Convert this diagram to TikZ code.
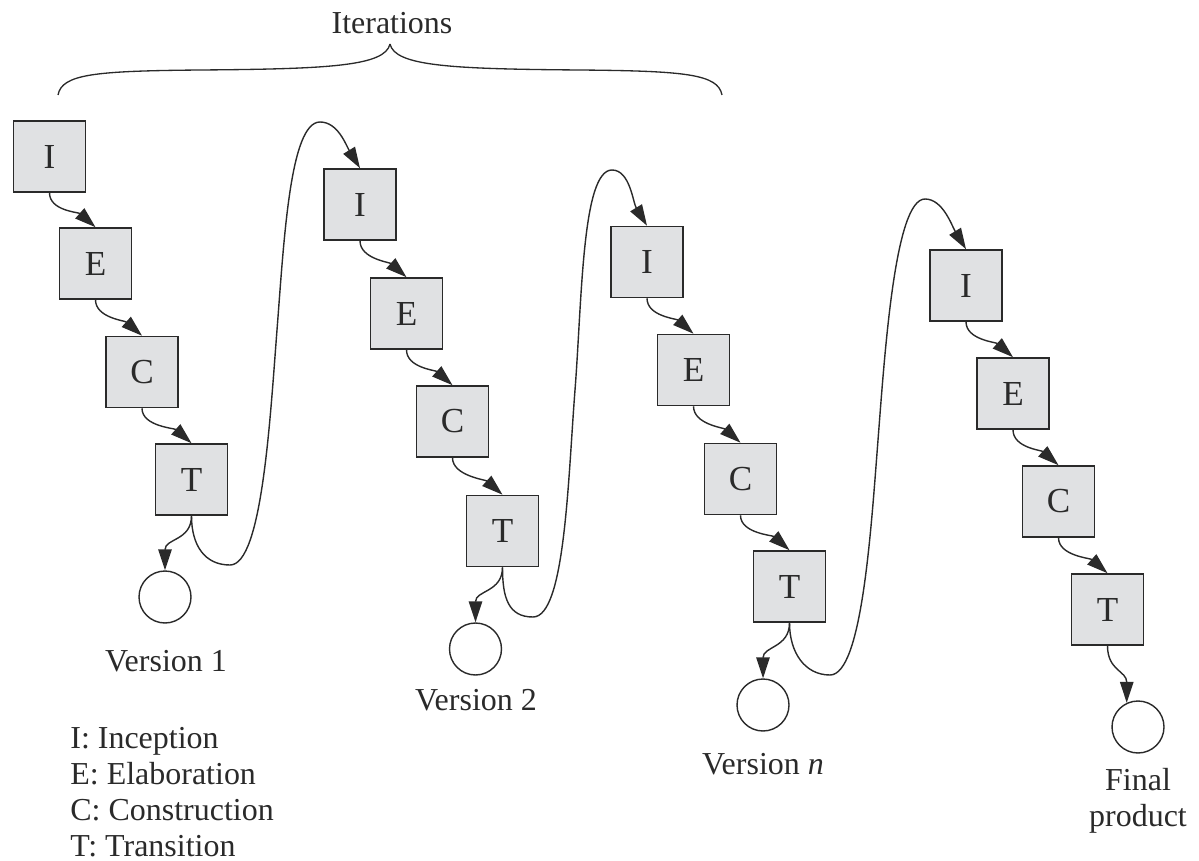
\documentclass[tikz,border=0pt]{standalone}
\usepackage{fontspec}
\setmainfont{Liberation Serif}
\usetikzlibrary{arrows.meta,calc}
\definecolor{boxgray}{HTML}{E0E1E3}
\definecolor{ink}{HTML}{2A2A2A}
\begin{document}
\begin{tikzpicture}[x=0.02cm,y=0.02cm,
  phase/.style={draw=ink, fill=boxgray, line width=0.9pt, minimum width=1.44cm, minimum height=1.42cm, inner sep=0pt, font=\fontsize{20}{23}\selectfont, text=ink},
  ver/.style={draw=ink, circle, line width=0.8pt, minimum size=1.04cm, inner sep=0pt},
  lbl/.style={font=\fontsize{18.2}{20.5}\selectfont, inner sep=0pt, text=ink},
  flow/.style={draw=ink, line width=0.8pt, -{Triangle[length=0.42cm,width=0.27cm]}},
  curly/.style={draw=ink, line width=0.75pt}
]
\useasboundingbox (0,0) rectangle (1199,-861);

% column 1
\node[phase] (I1) at (49.5,-156.5) {I};
\node[phase] (E1) at (95.5,-263.5) {E};
\node[phase] (C1) at (142,-372) {C};
\node[phase] (T1) at (191.5,-479.5) {T};
\node[ver] (V1) at (165,-597) {};
% column 2
\node[phase] (I2) at (360,-204.5) {I};
\node[phase] (E2) at (406.5,-313.5) {E};
\node[phase] (C2) at (452.5,-421.5) {C};
\node[phase] (T2) at (502.5,-531) {T};
\node[ver] (V2) at (475.5,-649) {};
% column 3
\node[phase] (I3) at (647,-262) {I};
\node[phase] (E3) at (693.5,-370) {E};
\node[phase] (C3) at (740.5,-479) {C};
\node[phase] (T3) at (789.5,-586.5) {T};
\node[ver] (V3) at (763,-705) {};
% column 4
\node[phase] (I4) at (966,-285.5) {I};
\node[phase] (E4) at (1013,-393.5) {E};
\node[phase] (C4) at (1058.5,-501.5) {C};
\node[phase] (T4) at (1107.5,-609.5) {T};
\node[ver] (V4) at (1138,-727) {};

% arrows inside each iteration
\foreach \c in {1,2,3,4}{
  \draw[flow] (I\c.south) .. controls ($(I\c.south)+(0,-18)$) and ($(E\c.north)+(-17,15)$) .. (E\c.north);
  \draw[flow] (E\c.south) .. controls ($(E\c.south)+(0,-18)$) and ($(C\c.north)+(-17,15)$) .. (C\c.north);
  \draw[flow] (C\c.south) .. controls ($(C\c.south)+(0,-18)$) and ($(T\c.north)+(-17,15)$) .. (T\c.north);
}
% arrows to the versions
\foreach \c in {1,2,3}{
  \draw[flow] (T\c.south) .. controls ($(T\c.south)+(0,-25)$) and ($(V\c.north)+(0,32)$) .. (V\c.north);
}
\draw[flow] (T4.south) .. controls ($(T4.south)+(0,-25)$) and ($(V4.115)+(0,32)$) .. (V4.115);

% loops to the next iteration
\coordinate (b1) at (230,-565);
\coordinate (m1) at (277,-330);
\coordinate (p1) at (320,-122);
\coordinate (b2) at (533,-617);
\coordinate (m2) at (575,-390);
\coordinate (p2) at (612,-170);
\coordinate (b3) at (830,-675);
\coordinate (m3) at (878,-440);
\coordinate (p3) at (925,-199);

\draw[flow] (T1.south) .. controls ($(T1.south)+(0,-30)$) and ($(b1)+(-25,0)$) .. (b1)
  .. controls ($(b1)+(32,0)$) and ($(m1)+(-7,-90)$) .. (m1)
  .. controls ($(m1)+(7,90)$) and ($(p1)+(-30,0)$) .. (p1)
  .. controls ($(p1)+(18,0)$) and ($(I2.north)+(-14,23)$) .. (I2.north);
\draw[flow] (T2.south) .. controls ($(T2.south)+(0,-30)$) and ($(b2)+(-25,0)$) .. (b2)
  .. controls ($(b2)+(32,0)$) and ($(m2)+(-7,-90)$) .. (m2)
  .. controls ($(m2)+(7,90)$) and ($(p2)+(-30,0)$) .. (p2)
  .. controls ($(p2)+(18,0)$) and ($(I3.north)+(-14,23)$) .. (I3.north);
\draw[flow] (T3.south) .. controls ($(T3.south)+(0,-30)$) and ($(b3)+(-25,0)$) .. (b3)
  .. controls ($(b3)+(32,0)$) and ($(m3)+(-7,-90)$) .. (m3)
  .. controls ($(m3)+(7,90)$) and ($(p3)+(-30,0)$) .. (p3)
  .. controls ($(p3)+(18,0)$) and ($(I4.north)+(-14,23)$) .. (I4.north);

% brace
\draw[curly] (58,-95) .. controls (62,-74) and (95,-71) .. (200,-70)
  .. controls (330,-69) and (385,-66) .. (390,-44);
\draw[curly] (722,-95) .. controls (718,-74) and (685,-71) .. (580,-70)
  .. controls (450,-69) and (395,-66) .. (390,-44);

% labels
\node[lbl] (iter) at (392,-23) {Iterations};
\node[lbl] (v1) at (166,-661) {Version 1};
\node[lbl] (v2) at (476,-700) {Version 2};
\node[lbl] (v3) at (763,-764) {Version \textit{n}};
\node[lbl, align=center] (v4) at (1138,-801) {Final\\product};
\node[lbl, align=left, anchor=west] (legend) at (70,-792) {I: Inception\\E: Elaboration\\C: Construction\\T: Transition};
\end{tikzpicture}
\end{document}
